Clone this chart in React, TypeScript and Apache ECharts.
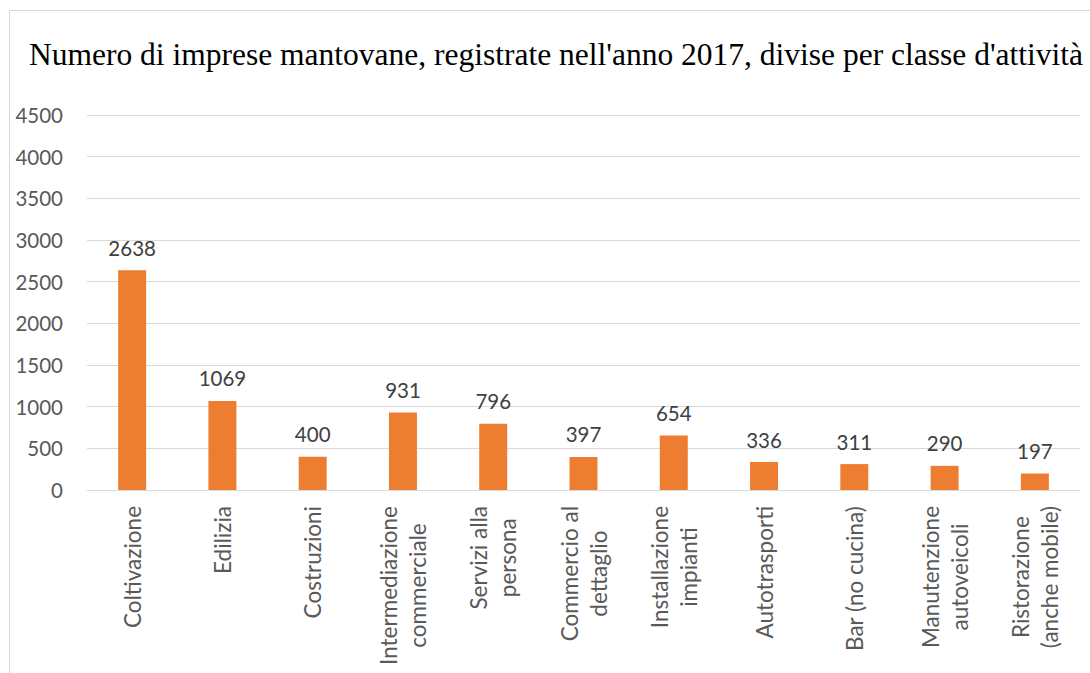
import React, { useEffect, useRef } from "react";
import * as echarts from "echarts";

const TITLE = "Numero di imprese mantovane, registrate nell'anno 2017, divise per classe d'attività";
const categories = [
  "Coltivazione",
  "Edilizia",
  "Costruzioni",
  "Intermediazione\ncommerciale",
  "Servizi alla\npersona",
  "Commercio al\ndettaglio",
  "Installazione\nimpianti",
  "Autotrasporti",
  "Bar (no cucina)",
  "Manutenzione\nautoveicoli",
  "Ristorazione\n(anche mobile)",
];
const values = [2638, 1069, 400, 931, 796, 397, 654, 336, 311, 290, 197];
const yMin = 0;
const yMax = 4500;
const yStep = 500;

const SANS = "Lato, 'Open Sans', sans-serif";

export default function App() {
  const ref = useRef<HTMLDivElement>(null);
  useEffect(() => {
    if (!ref.current) return;
    const chart = echarts.init(ref.current, null, { renderer: "svg" });
    chart.setOption({
      animation: false,
      backgroundColor: "#ffffff",
      title: {
        text: TITLE,
        left: 24,
        top: 33,
        textStyle: {
          fontFamily: "'Liberation Serif', serif",
          fontSize: 31.5,
          fontWeight: "normal",
          color: "#000000",
        },
      },
      graphic: [
        {
          type: "rect",
          shape: { x: 9.5, y: 10.5, width: 1200, height: 800 },
          style: { fill: "none", stroke: "#D9D9D9", lineWidth: 1 },
          silent: true,
        },
      ],
      grid: { left: 87, right: 10, top: 115, bottom: 183, containLabel: false },
      xAxis: {
        type: "category",
        data: categories,
        axisLine: { show: true, lineStyle: { color: "#D9D9D9", width: 1 } },
        axisTick: { show: false },
        axisLabel: {
          interval: 0,
          rotate: 90,
          margin: 16,
          formatter: (v: string) =>
            v
              .split("\n")
              .map((l) => "{c|" + l + "}")
              .join("\n"),
          rich: {
            c: {
              align: "center",
              fontFamily: SANS,
              fontSize: 22.5,
              lineHeight: 29,
              color: "#595959",
            },
          },
          fontFamily: SANS,
          fontSize: 22.5,
          color: "#595959",
        },
      },
      yAxis: {
        type: "value",
        min: yMin,
        max: yMax,
        interval: yStep,
        axisLine: { show: false },
        axisTick: { show: false },
        splitLine: { lineStyle: { color: "#D9D9D9", width: 1 } },
        axisLabel: {
          margin: 24,
          formatter: (v: number) => String(v),
          fontFamily: SANS,
          fontSize: 20.5,
          color: "#595959",
        },
      },
      series: [
        {
          type: "bar",
          data: values,
          barWidth: "31%",
          itemStyle: { color: "#ED7D31" },
          label: {
            show: true,
            position: "top",
            distance: 12,
            fontFamily: SANS,
            fontSize: 20.5,
            color: "#404040",
          },
        },
      ],
    });
    return () => chart.dispose();
  }, []);
  return (
    <div
      ref={ref}
      style={{ position: "absolute", left: 0, top: 0, width: 1090, height: 673 }}
    />
  );
}
